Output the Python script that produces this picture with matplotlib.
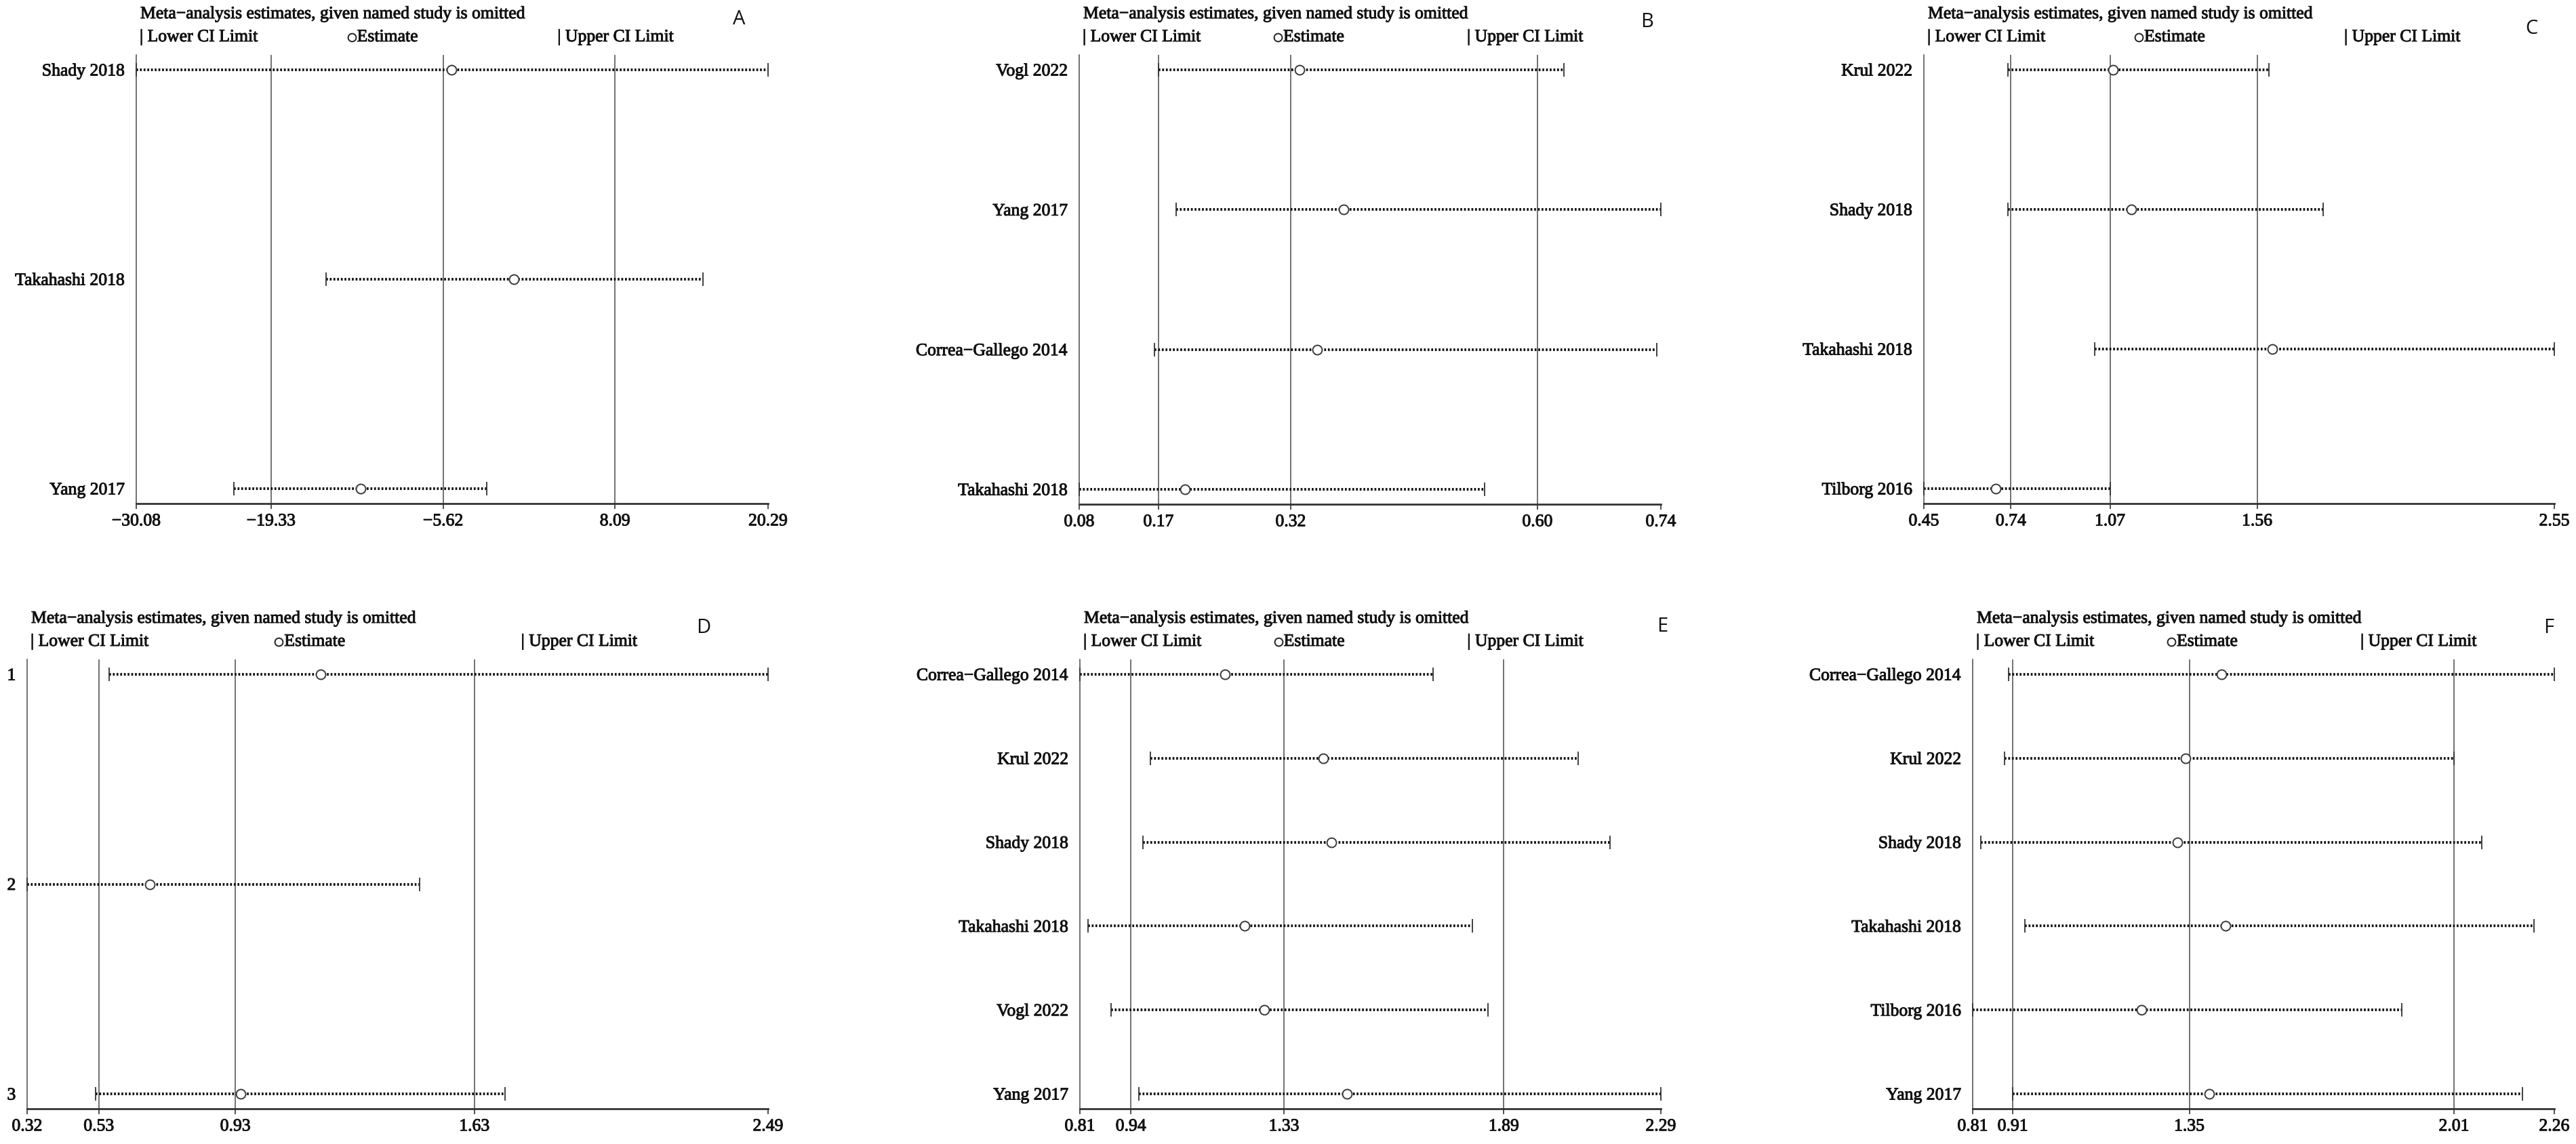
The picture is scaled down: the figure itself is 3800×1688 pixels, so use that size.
import matplotlib
matplotlib.use("Agg")
import matplotlib.pyplot as plt
import matplotlib.patheffects as pe
from matplotlib.transforms import ScaledTranslation

plt.rcParams["font.family"] = ["Liberation Serif", "DejaVu Serif"]

# ---- data -------------------------------------------------------------------
A_studies = ["Shady 2018", "Takahashi 2018", "Yang 2017"]
A_est = [-4.95, 0.03, -12.20]
A_low = [-30.08, -14.95, -22.30]
A_high = [20.29, 15.10, -2.13]
A_ticks = [-30.08, -19.33, -5.62, 8.09, 20.29]

B_studies = ["Vogl 2022", "Yang 2017", "Correa\u2212Gallego 2014", "Takahashi 2018"]
B_est = [0.33, 0.38, 0.35, 0.20]
B_low = [0.17, 0.19, 0.165, 0.08]
B_high = [0.63, 0.74, 0.735, 0.54]
B_ticks = [0.08, 0.17, 0.32, 0.60, 0.74]

C_studies = ["Krul 2022", "Shady 2018", "Takahashi 2018", "Tilborg 2016"]
C_est = [1.08, 1.14, 1.61, 0.69]
C_low = [0.73, 0.73, 1.02, 0.45]
C_high = [1.60, 1.78, 2.55, 1.07]
C_ticks = [0.45, 0.74, 1.07, 1.56, 2.55]

D_studies = ["1", "2", "3"]
D_est = [1.18, 0.68, 0.945]
D_low = [0.56, 0.32, 0.52]
D_high = [2.49, 1.47, 1.72]
D_ticks = [0.32, 0.53, 0.93, 1.63, 2.49]

E_studies = ["Correa\u2212Gallego 2014", "Krul 2022", "Shady 2018",
             "Takahashi 2018", "Vogl 2022", "Yang 2017"]
E_est = [1.18, 1.43, 1.45, 1.23, 1.28, 1.49]
E_low = [0.81, 0.99, 0.97, 0.83, 0.89, 0.96]
E_high = [1.71, 2.08, 2.16, 1.81, 1.85, 2.29]
E_ticks = [0.81, 0.94, 1.33, 1.89, 2.29]

F_studies = ["Correa\u2212Gallego 2014", "Krul 2022", "Shady 2018",
             "Takahashi 2018", "Tilborg 2016", "Yang 2017"]
F_est = [1.43, 1.34, 1.32, 1.44, 1.23, 1.40]
F_low = [0.90, 0.89, 0.83, 0.94, 0.81, 0.91]
F_high = [2.26, 2.01, 2.08, 2.21, 1.88, 2.18]
F_ticks = [0.81, 0.91, 1.35, 2.01, 2.26]

TITLE = "Meta\u2212analysis estimates, given named study is omitted"

# ---- layout (pixels in a 3800 x 1688 canvas) -------------------------------
W, H = 3800, 1688
PX = 0.72          # points per pixel at dpi 100
FS = 18.5
INK = "#111111"
GRID = "#4a4a4a"
HEAVY = [pe.withStroke(linewidth=0.7, foreground=INK)]

fig = plt.figure(figsize=(W / 100, H / 100), dpi=100)


def make_axes(l, r, t, b):
    return fig.add_axes([l / W, 1 - b / H, (r - l) / W, (b - t) / H])


def header(ax, text, x, dx_px, dy_px):
    return ax.annotate(text, xy=(x, 1), xycoords="axes fraction",
                       xytext=(dx_px * PX, dy_px * PX), textcoords="offset points",
                       ha="left", va="center", fontsize=FS, color=INK,
                       path_effects=HEAVY)


def forest(ax, studies, est, low, high, ticks, letter, letter_xy):
    n = len(studies)
    ys = list(range(n))
    hpx = ax.get_position().height * H
    pad = 22 / ((hpx - 44) / (n - 1))

    ax.set_xlim(ticks[0], ticks[-1])
    ax.set_ylim(n - 1 + pad, -pad)

    for v in ticks[1:4]:
        ax.axvline(v, color=GRID, lw=1.1, zorder=1)

    ax.hlines(ys, low, high, colors="#111111", lw=2.8,
              linestyles=[(0, (0.7, 0.7))], zorder=2)
    for ends in (low, high):
        ax.plot(ends, ys, ls="none", marker="|", ms=15, mew=1.3,
                color="#333333", zorder=3, clip_on=False)
    ax.plot(est, ys, ls="none", marker="o", ms=10, mfc="white", mec="#3a3a3a",
            mew=1.4, zorder=4, clip_on=False)

    ax.set_yticks(ys)
    ax.set_yticklabels(studies, fontsize=FS, color=INK)
    ax.tick_params(axis="y", length=0, pad=12)

    ax.set_xticks(ticks)
    ax.set_xticklabels([f"{v:.2f}".replace("-", "\u2212") for v in ticks],
                       fontsize=FS, color=INK)
    ax.tick_params(axis="x", length=6, width=1.2, color="#333333", pad=5)
    for lab in ax.get_xticklabels() + ax.get_yticklabels():
        lab.set_path_effects(HEAVY)

    for s in ("top", "right"):
        ax.spines[s].set_visible(False)
    ax.spines["left"].set_color(GRID)
    ax.spines["left"].set_linewidth(1.1)
    ax.spines["bottom"].set_color("#333333")
    ax.spines["bottom"].set_linewidth(2.0)

    # header: title + legend row
    header(ax, TITLE, 0, 6, 60)
    ly = 26
    header(ax, "| Lower CI Limit", 0, 5, ly)
    mk, = ax.plot([1 / 3], [1], marker="o", ms=8.5, mfc="white",
                  mec="#222222", mew=1.4, clip_on=False)
    mk.set_transform(ax.transAxes + ScaledTranslation(
        7 / 100, ly / 100, fig.dpi_scale_trans))
    header(ax, "Estimate", 1 / 3, 15, ly)
    header(ax, "| Upper CI Limit", 2 / 3, 0, ly)

    fig.text(letter_xy[0] / W, 1 - letter_xy[1] / H, letter,
             ha="center", va="center", fontsize=21, color=INK,
             family=["Open Sans", "DejaVu Sans"])


axA = make_axes(201, 1133, 81, 743)
forest(axA, A_studies, A_est, A_low, A_high, A_ticks, "A", (1090, 29))
axB = make_axes(1592, 2450, 81, 744)
forest(axB, B_studies, B_est, B_low, B_high, B_ticks, "B", (2430, 33))
axC = make_axes(2838, 3768, 81, 743)
forest(axC, C_studies, C_est, C_low, C_high, C_ticks, "C", (3734, 42))
axD = make_axes(40, 1133, 973, 1636)
forest(axD, D_studies, D_est, D_low, D_high, D_ticks, "D", (1038, 926))
axE = make_axes(1593, 2450, 973, 1636)
forest(axE, E_studies, E_est, E_low, E_high, E_ticks, "E", (2452, 925))
axF = make_axes(2910, 3768, 973, 1636)
forest(axF, F_studies, F_est, F_low, F_high, F_ticks, "F", (3760, 926))

fig.savefig("out.png", dpi=100, facecolor="white")
